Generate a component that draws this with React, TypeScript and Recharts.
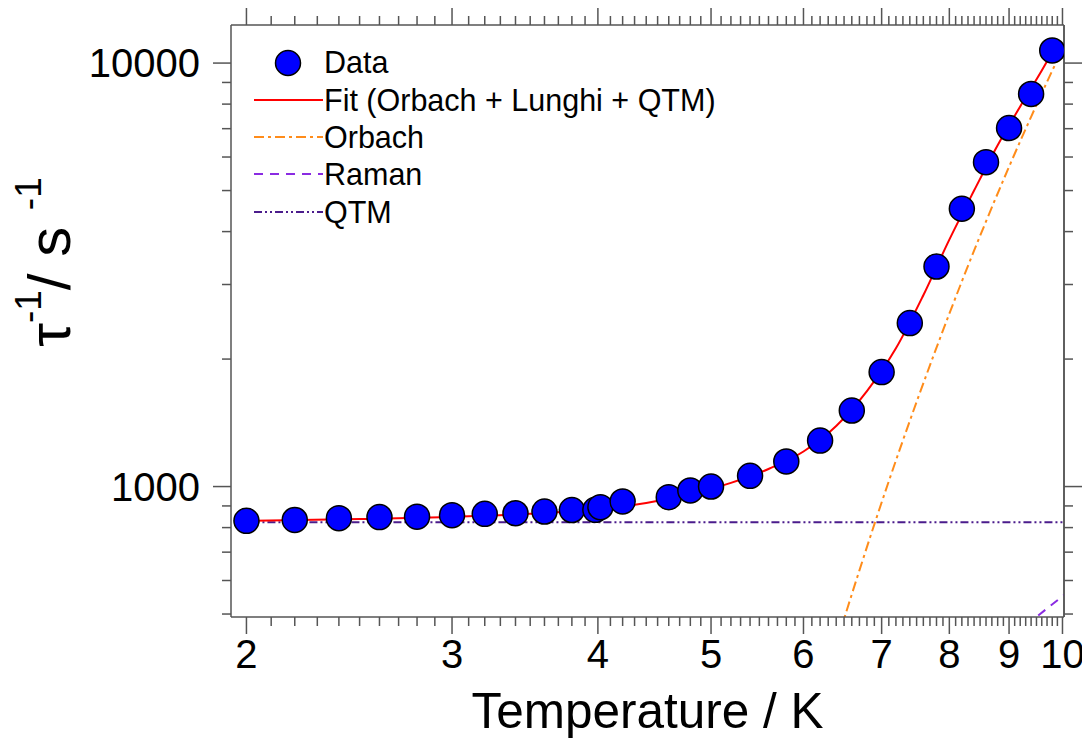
import { ComposedChart, Line, ReferenceLine, Scatter, XAxis, YAxis } from 'recharts';

// measured relaxation rates
const tempK = [2.0, 2.2, 2.4, 2.6, 2.8, 3.0, 3.2, 3.4, 3.6, 3.8, 3.98, 4.02, 4.2, 4.6, 4.8, 5.0, 5.4, 5.8, 6.2, 6.6, 7.0, 7.4, 7.8, 8.2, 8.6, 9.0, 9.4, 9.8];
const rate = [830, 834, 842, 847, 849, 856, 862, 865, 873, 880, 881, 894, 922, 944, 979, 1000, 1060, 1146, 1284, 1512, 1863, 2432, 3308, 4529, 5834, 7025, 8454, 10710];

// fit curve and its components
const fitT = [2.0, 2.5, 3.0, 3.5, 4.0, 4.4, 4.8, 5.2, 5.6, 6.0, 6.4, 6.8, 7.2, 7.6, 8.0, 8.4, 8.8, 9.2, 9.6, 9.8];
const fitRate = [830, 838, 848, 862, 885, 915, 960, 1020, 1100, 1210, 1390, 1680, 2120, 2830, 3830, 5000, 6400, 7900, 9600, 10600];
const orbachT = [6.45, 6.7, 6.91, 7.3, 7.8, 8.2, 8.6, 9.0, 9.4, 9.8, 10.1];
const orbachRate = [455, 634, 824, 1285, 2128, 3051, 4227, 5690, 7467, 9594, 11430];
const ramanT = [9.3, 10.2];
const ramanRate = [470, 575];
const qtmT = [2.0, 10.1];
const qtmRate = [824, 824];

const xMajor = [2, 3, 4, 5, 6, 7, 8, 9, 10];
const yMajor = [1000, 10000];
const yMinor = [500, 600, 700, 800, 900, 2000, 3000, 4000, 5000, 6000, 7000, 8000, 9000];

const xTicks: number[] = [];
for (let i = 20; i <= 100; i++) xTicks.push(i / 10);
const yTicks = [...yMinor, ...yMajor].sort((a, b) => a - b);

const xDomain = [1.94, 10.03];
const yDomain = [492, 12300];

const W = 1082;
const H = 736;
const frame = '#555';
const font = '"Liberation Sans", Arial, sans-serif';

const pts = (xs: number[], ys: number[]) => xs.map((x, i) => ({ x, y: ys[i] }));

const dataPts = pts(tempK, rate);
const fitPts = pts(fitT, fitRate);
const orbachPts = pts(orbachT, orbachRate);
const ramanPts = pts(ramanT, ramanRate);
const qtmPts = pts(qtmT, qtmRate);

const isMajorX = (v: number) => xMajor.some((m) => Math.abs(v - m) < 1e-6);

const BottomTick = (p: any) => {
  const major = isMajorX(p.payload.value);
  return (
    <g>
      <line x1={p.x} y1={p.y} x2={p.x} y2={p.y + (major ? 17 : 9)} stroke={frame} strokeWidth={1.5} />
      {major && (
        <text x={p.x} y={p.y + 51} textAnchor="middle" fontSize={40} fill="#000">
          {Math.round(p.payload.value)}
        </text>
      )}
    </g>
  );
};

const TopTick = (p: any) => {
  const major = isMajorX(p.payload.value);
  return <line x1={p.x} y1={p.y} x2={p.x} y2={p.y - (major ? 17 : 9)} stroke={frame} strokeWidth={1.5} />;
};

const LeftTick = (p: any) => {
  const major = yMajor.includes(p.payload.value);
  return (
    <g>
      <line x1={p.x} y1={p.y} x2={p.x - (major ? 18 : 9)} y2={p.y} stroke={frame} strokeWidth={1.5} />
      {major && (
        <text x={p.x - 31} y={p.y + 14} textAnchor="end" fontSize={40} fill="#000">
          {p.payload.value}
        </text>
      )}
    </g>
  );
};

const RightTick = (p: any) => {
  const major = yMajor.includes(p.payload.value);
  return <line x1={p.x} y1={p.y} x2={p.x + (major ? 18 : 9)} y2={p.y} stroke={frame} strokeWidth={1.5} />;
};

const YTitle = () => (
  <text transform="rotate(-90 62 254)" x={62} y={254} textAnchor="middle" fontSize={60} fill="#000">
    <tspan>τ</tspan>
    <tspan fontSize={37} dy={-29}>-1</tspan>
    <tspan dy={29}>/ s </tspan>
    <tspan fontSize={37} dy={-29}>-1</tspan>
  </text>
);

const legendRows = [
  { label: 'Fit (Orbach + Lunghi + QTM)', color: '#ff0000', dash: undefined, y: 92 },
  { label: 'Orbach', color: '#ff8c1a', dash: '10 4 3 4', y: 129 },
  { label: 'Raman', color: '#8a2be2', dash: '9 7', y: 166 },
  { label: 'QTM', color: '#4b1c8c', dash: '8 3 2 3 2 3', y: 204 },
];

const Dot = (p: any) => <circle cx={p.cx} cy={p.cy} r={12.5} fill="#0000ff" stroke="#000" strokeWidth={1.5} />;

export default function App() {
  return (
    <div style={{ position: 'relative', width: W, height: H, fontFamily: font }}>
      <ComposedChart width={W} height={H} margin={{ top: 0, right: 0, bottom: 0, left: 0 }}>
        <XAxis
          xAxisId="b"
          dataKey="x"
          type="number"
          scale="log"
          domain={xDomain}
          allowDataOverflow
          ticks={xTicks}
          interval={0}
          tickSize={0}
          tickMargin={0}
          tickLine={false}
          tick={BottomTick}
          height={H - 609}
          axisLine={{ stroke: frame, strokeWidth: 1.5 }}
          label={{ value: 'Temperature / K', position: 'insideBottom', offset: 16, fontSize: 49.5, fill: '#000' }}
        />
        <XAxis
          xAxisId="t"
          dataKey="x"
          orientation="top"
          type="number"
          scale="log"
          domain={xDomain}
          allowDataOverflow
          ticks={xTicks}
          interval={0}
          tickSize={0}
          tickMargin={0}
          tickLine={false}
          tick={TopTick}
          height={17}
          axisLine={{ stroke: frame, strokeWidth: 1.5 }}
        />
        <YAxis
          yAxisId="l"
          dataKey="y"
          type="number"
          scale="log"
          domain={yDomain}
          allowDataOverflow
          ticks={yTicks}
          interval={0}
          tickSize={0}
          tickMargin={0}
          tickLine={false}
          tick={LeftTick}
          width={223}
          axisLine={{ stroke: frame, strokeWidth: 1.5 }}
          label={{ content: () => <YTitle /> }}
        />
        <YAxis
          yAxisId="r"
          dataKey="y"
          orientation="right"
          type="number"
          scale="log"
          domain={yDomain}
          allowDataOverflow
          ticks={yTicks}
          interval={0}
          tickSize={0}
          tickMargin={0}
          tickLine={false}
          tick={RightTick}
          width={W - 1056}
          axisLine={{ stroke: frame, strokeWidth: 1.5 }}
        />
        <Line xAxisId="t" yAxisId="r" data={qtmPts} dataKey="y" stroke="none" dot={false} activeDot={false} legendType="none" isAnimationActive={false} />
        <ReferenceLine xAxisId="b" yAxisId="l" x={xDomain[1]} stroke={frame} strokeWidth={1.5} ifOverflow="visible" />
        <Scatter xAxisId="b" yAxisId="l" data={dataPts} dataKey="y" shape={Dot} isAnimationActive={false} />
        <Line xAxisId="b" yAxisId="l" data={qtmPts} dataKey="y" type="linear" stroke="#4b1c8c" strokeWidth={2} strokeDasharray="8 3 2 3 2 3" dot={false} activeDot={false} isAnimationActive={false} />
        <Line xAxisId="b" yAxisId="l" data={ramanPts} dataKey="y" type="linear" stroke="#8a2be2" strokeWidth={2} strokeDasharray="9 7" dot={false} activeDot={false} isAnimationActive={false} />
        <Line xAxisId="b" yAxisId="l" data={orbachPts} dataKey="y" type="monotone" stroke="#ff8c1a" strokeWidth={2} strokeDasharray="10 4 3 4" dot={false} activeDot={false} isAnimationActive={false} />
        <Line xAxisId="b" yAxisId="l" data={fitPts} dataKey="y" type="monotone" stroke="#ff0000" strokeWidth={2} dot={false} activeDot={false} isAnimationActive={false} />
      </ComposedChart>
      <svg width={W} height={H} style={{ position: 'absolute', left: 0, top: 0, pointerEvents: 'none' }}>
        <circle cx={280} cy={55} r={12.5} fill="#0000ff" stroke="#000" strokeWidth={1.5} />
        <text x={316} y={65} fontSize={30.5} fill="#000">Data</text>
        {legendRows.map((r) => (
          <g key={r.label}>
            <line x1={246} y1={r.y} x2={315} y2={r.y} stroke={r.color} strokeWidth={2} strokeDasharray={r.dash} />
            <text x={316} y={r.y + 10.5} fontSize={30.5} fill="#000">{r.label}</text>
          </g>
        ))}
      </svg>
    </div>
  );
}
